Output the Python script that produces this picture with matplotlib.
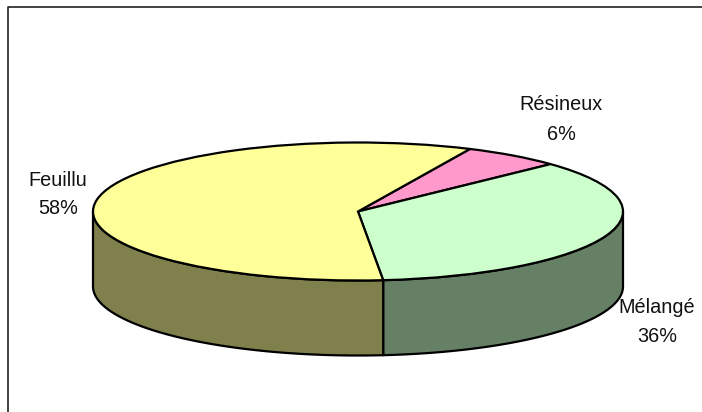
import matplotlib

matplotlib.use('Agg')
import matplotlib.pyplot as plt
import numpy as np

labels = ["Résineux", "Mélangé", "Feuillu"]
shares = [6.0, 35.5, 58.4]
top_colors = ["#FF99CC", "#CCFFCC", "#FFFF99"]
side_colors = ["#804D66", "#668066", "#80804D"]

width = 702
height = 412
start_angle = 65  # degrees, drawn clockwise
cx = 358
cy = 211.5
rx = 265
ry = 69
wall = 75
fontsize = 14.3

# label centres in picture pixels (x, name y, percent y)
label_pos = [(561, 104.5, 134), (657, 307.5, 337), (58, 180.5, 209)]

plt.rcParams['font.family'] = ['Liberation Sans', 'DejaVu Sans']
fig = plt.figure(figsize=(width / 100, height / 100), dpi=100)
ax = fig.add_axes([0, 0, 1, 1])

# pie top is a normal unit pie, the axes limits squash it flat
wedges, _ = ax.pie(shares, colors=top_colors, startangle=start_angle,
                   counterclock=False, radius=1, normalize=True,
                   wedgeprops={'edgecolor': 'black', 'linewidth': 1.6})
ax.set_aspect('auto')
ax.set_xlim(-cx / rx, (width - cx) / rx)
ax.set_ylim(-(height - cy) / ry, cy / ry)
ax.set_frame_on(False)

wall_y = wall / ry
edges = start_angle - np.cumsum([0] + shares) / sum(shares) * 360
for i in range(len(shares)):
    a0, a1 = edges[i], edges[i + 1]
    # only the front half of the pie (sin < 0) shows a wall
    lo = max(a1, -180)
    hi = min(a0, 0)
    if lo >= hi:
        continue
    t = np.radians(np.linspace(hi, lo, 80))
    xs = np.cos(t)
    ys = np.sin(t)
    ax.fill(np.r_[xs, xs[::-1]], np.r_[ys, ys[::-1] - wall_y],
            facecolor=side_colors[i], edgecolor='black', linewidth=1.6,
            joinstyle='round', zorder=0.5)

for name, share, (x, y1, y2) in zip(labels, shares, label_pos):
    ax.text(x / width, 1 - y1 / height, name, transform=ax.transAxes,
            ha='center', va='center', fontsize=fontsize, color='#111111')
    ax.text(x / width, 1 - y2 / height, f"{round(share)}%", transform=ax.transAxes,
            ha='center', va='center', fontsize=fontsize, color='#111111')

# chart frame runs off the picture on the right and at the bottom
ax.plot([8 / width, 8 / width, 1], [0, 1 - 6.5 / height, 1 - 6.5 / height],
        transform=ax.transAxes, color='#222222', lw=1.2, clip_on=False)

fig.savefig("out.png", dpi=100)
plt.close()
